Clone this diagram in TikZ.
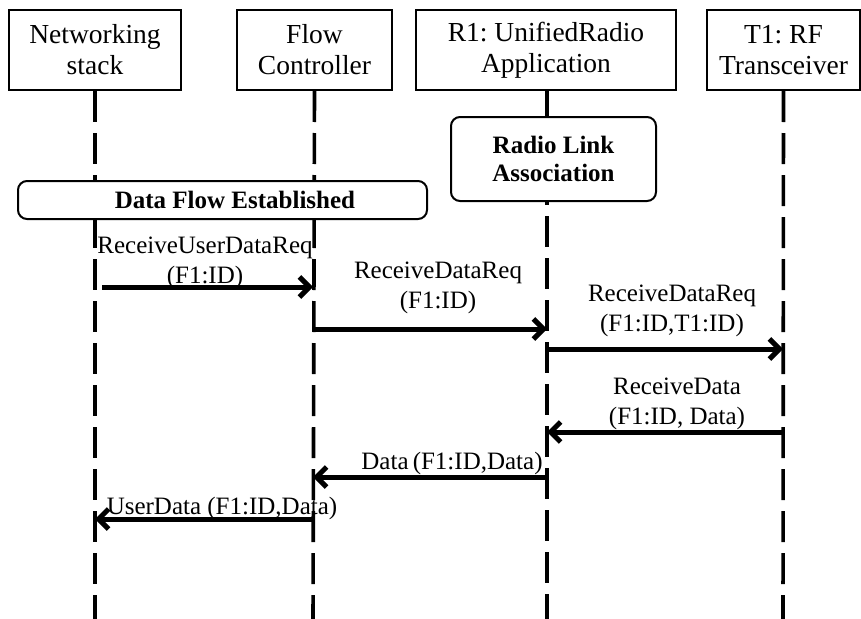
\documentclass[tikz,border=0pt]{standalone}
\usepackage{fontspec}
\setmainfont{Liberation Serif}
\usetikzlibrary{arrows.meta}
\tikzset{
  hdr/.style={draw, line width=2pt, fill=white, align=center, inner sep=0pt,
    minimum height=80pt, font=\fontsize{27.5}{31}\selectfont},
  grp/.style={draw, line width=2pt, fill=white, rounded corners=9pt, align=center, inner sep=0pt,
    font=\fontsize{25}{28}\selectfont\bfseries},
  life/.style={line width=3.6pt, dash pattern=on 31pt off 11pt},
  msg/.style={line width=5pt, -{Straight Barb[length=10pt,width=20pt,line width=5pt]}},
  lbl/.style={align=center, inner sep=0pt, font=\fontsize{25}{30}\selectfont},
}
\begin{document}
\begin{tikzpicture}[x=1pt,y=-1pt]
\useasboundingbox (0,0) rectangle (861,618);
% headers
\node[hdr, minimum width=172pt] (ns) at (95,50) {Networking\\stack};
\node[hdr, minimum width=155pt] (fc) at (314.5,50) {Flow\\Controller};
\node[hdr, minimum width=260pt] (r1) at (546,50) {R1:\ UnifiedRadio\\Application};
\node[hdr, minimum width=153pt] (t1) at (783.5,50) {T1:\ RF\\Transceiver};
% lifeline ends
\coordinate (nsE) at (95,620);
\coordinate (fcE) at (313,620);
\coordinate (r1E) at (547,620);
\coordinate (t1E) at (783,620);
\draw[life] (ns.south) -- (nsE);
\draw[life] (fc.south) -- (fcE);
\draw[life] (547,90) -- (r1E);
\draw[life] (t1.south) -- (t1E);
% group boxes
\node[grp, minimum width=409pt, minimum height=38pt] (dfe) at (222.5,200) {\hspace*{25pt}Data Flow Established};
\node[grp, minimum width=205pt, minimum height=84pt] (rla) at (553.5,159) {Radio Link\\Association};
% message points
\coordinate (a1s) at (102,287); \coordinate (a1e) at (313,287);
\coordinate (a2s) at (313,329); \coordinate (a2e) at (547,329);
\coordinate (a3s) at (547,349); \coordinate (a3e) at (783,349);
\coordinate (a4s) at (783,432); \coordinate (a4e) at (547,432);
\coordinate (a5s) at (547,477); \coordinate (a5e) at (313,477);
\coordinate (a6s) at (313,519); \coordinate (a6e) at (95,519);
% labels
\node[lbl] (l1) at (205,263) {ReceiveUserDataReq\\(F1:ID)};
\node[lbl] (l2) at (438,288) {ReceiveDataReq\\(F1:ID)};
\node[lbl] (l3) at (672,311) {ReceiveDataReq\\(F1:ID,T1:ID)};
\node[lbl] (l4) at (677,404) {ReceiveData\\(F1:ID, Data)};
\node[lbl] (l5) at (452,463) {Data\,(F1:ID,Data)};
\node[lbl] (l6) at (222,508) {UserData (F1:ID,Data)};
% messages
\draw[msg] (a1s) -- (a1e);
\draw[msg] (a2s) -- (a2e);
\draw[msg] (a3s) -- (a3e);
\draw[msg] (a4s) -- (a4e);
\draw[msg] (a5s) -- (a5e);
\draw[msg] (a6s) -- (a6e);
\end{tikzpicture}
\end{document}
